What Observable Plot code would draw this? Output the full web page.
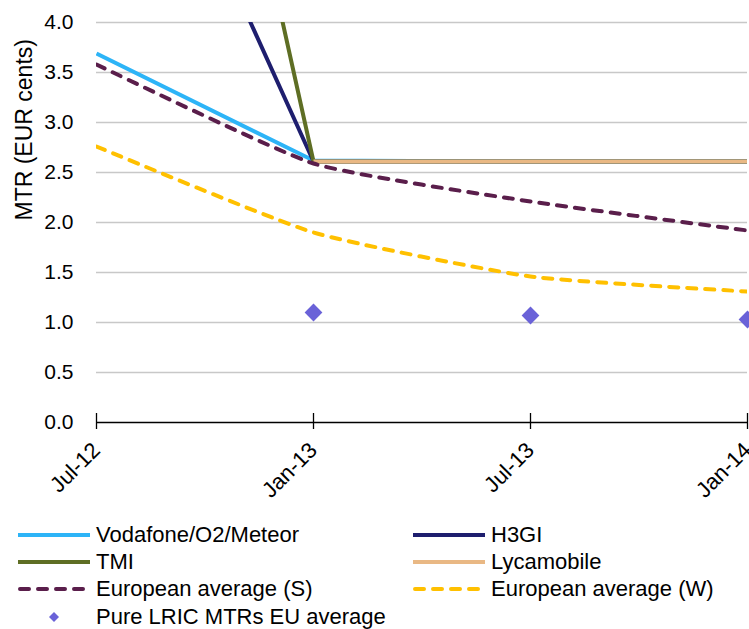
<!DOCTYPE html>
<html><head><meta charset="utf-8">
<script src="https://cdn.jsdelivr.net/npm/d3@7"></script>
<script src="https://cdn.jsdelivr.net/npm/@observablehq/plot@0.6"></script>
<style>
body{margin:0;background:#fff;font-family:"Liberation Sans",Arial,sans-serif;}
#chart{position:relative;width:749px;height:629px;overflow:hidden;background:#fff}
#chart svg.plot{display:block}
.item{position:absolute;height:27px;display:flex;align-items:center;white-space:nowrap;font-size:22px;color:#000;font-family:"Liberation Sans",Arial,sans-serif}
.item svg{display:block;flex:none}
.item span{margin-left:6px}
</style></head><body><div id="chart"></div>
<script>
// ---- data ----
const periods = ["Jul-12", "Jan-13", "Jul-13", "Jan-14"];
const vodafone   = [3.69, 2.62, 2.61, 2.61];
const h3gi       = [7.4, 2.61, 2.61, 2.61];
const tmi        = [12.4, 2.61, 2.61, 2.61];
const lycamobile = [null, 2.61, 2.61, 2.61];
const euAvgS     = [3.58, 2.59, 2.21, 1.92];
const euAvgW     = [2.76, 1.90, 1.46, 1.31];
const lricAvg    = [null, 1.10, 1.07, 1.03];
const yTicks = [0, 0.5, 1, 1.5, 2, 2.5, 3, 3.5, 4];
const yLabel = "MTR (EUR cents)";
const seriesNames = ["Vodafone/O2/Meteor", "H3GI", "TMI", "Lycamobile",
  "European average (S)", "European average (W)", "Pure LRIC MTRs EU average"];

// ---- build tables ----
const toRows = (vals) => periods.map((p, i) => ({period: p, value: vals[i]})).filter(d => d.value != null);
const seriesValues = [vodafone, h3gi, tmi, lycamobile, euAvgS, euAvgW, lricAvg];
const styles = [
  {stroke: "#2DB4F7", dash: null, type: "line"},
  {stroke: "#1E1E6E", dash: null, type: "line"},
  {stroke: "#5E6E24", dash: null, type: "line"},
  {stroke: "#E9B884", dash: null, type: "line"},
  {stroke: "#5A1E4B", dash: "9,9", type: "line"},
  {stroke: "#FFC000", dash: "9,9", type: "line"},
  {stroke: "#6A62D8", dash: null, type: "dot"}
];

const marks = [
  Plot.gridY(yTicks.filter(t => t > 0), {stroke: "#C8C8C8", strokeOpacity: 1, strokeWidth: 1.3}),
  Plot.axisY(yTicks, {tickSize: 0, tickPadding: 23, tickFormat: d3.format(".1f"), label: null, fontSize: 21}),
  Plot.text([yLabel], {frameAnchor: "left", rotate: -90, dx: -72, dy: -2, fontSize: 23, fill: "#000"}),
  Plot.axisX(periods, {tickSize: 7, tickPadding: 17, tickRotate: -45, label: null, fontSize: 22, strokeWidth: 1.3}),
  Plot.ruleY([0], {stroke: "#000", strokeWidth: 1.3}),
  Plot.ruleX(periods, {y1: 0, y2: 0.09, stroke: "#000", strokeWidth: 1.3})
];
seriesValues.forEach((vals, i) => {
  const s = styles[i];
  const rows = toRows(vals);
  if (s.type === "line") {
    marks.push(Plot.line(rows, {x: "period", y: "value", stroke: s.stroke, strokeWidth: 4,
      strokeDasharray: s.dash, strokeLinecap: s.dash ? "round" : "butt", strokeLinejoin: "round",
      curve: s.dash ? "cardinal" : "linear", tension: 0.5, clip: true}));
  } else {
    marks.push(Plot.dot(rows, {x: "period", y: "value", symbol: "diamond2", r: 8, fill: s.stroke, stroke: null}));
  }
});

const chart = Plot.plot({
  width: 749, height: 515,
  marginLeft: 96, marginRight: 2, marginTop: 22, marginBottom: 93,
  style: {fontFamily: "'Liberation Sans', Arial, sans-serif", fontSize: "21px", color: "#000", background: "#fff", overflow: "visible"},
  x: {type: "point", domain: periods, padding: 0},
  y: {domain: [0, 4]},
  marks
});
const root = document.getElementById("chart");
root.appendChild(chart);

// ---- legend ----
const cols = [18, 413];
const rowTop = [521.5, 548.5, 575.5, 603];
seriesNames.forEach((name, i) => {
  const s = styles[i];
  const item = document.createElement("div");
  item.className = "item";
  item.style.left = cols[i % 2] + "px";
  item.style.top = rowTop[Math.floor(i / 2)] + "px";
  const ns = "http://www.w3.org/2000/svg";
  const sw = document.createElementNS(ns, "svg");
  sw.setAttribute("width", 72); sw.setAttribute("height", 10);
  if (s.type === "line") {
    const l = document.createElementNS(ns, "line");
    const pad = s.dash ? 2 : 0;
    l.setAttribute("x1", pad); l.setAttribute("x2", 72 - pad);
    l.setAttribute("y1", 5); l.setAttribute("y2", 5);
    l.setAttribute("stroke", s.stroke); l.setAttribute("stroke-width", 4);
    l.setAttribute("stroke-linecap", "round");
    if (s.dash) l.setAttribute("stroke-dasharray", "9,9");
    sw.appendChild(l);
  } else {
    const p = document.createElementNS(ns, "path");
    p.setAttribute("d", "M36,0 L41,5 L36,10 L31,5 Z");
    p.setAttribute("fill", s.stroke);
    sw.appendChild(p);
  }
  item.appendChild(sw);
  const t = document.createElement("span");
  t.textContent = name;
  item.appendChild(t);
  root.appendChild(item);
});
</script></body></html>
